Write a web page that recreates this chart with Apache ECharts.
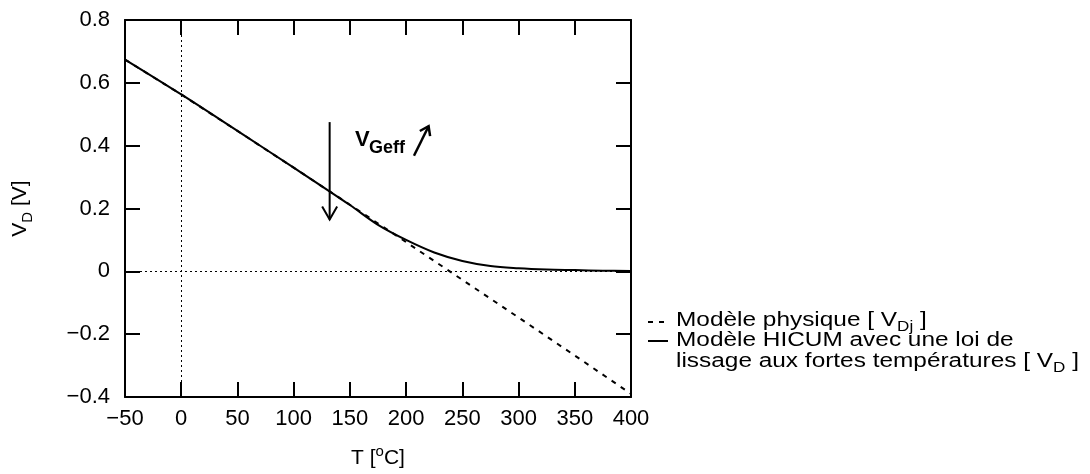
<!DOCTYPE html>
<html>
<head>
<meta charset="utf-8">
<script src="https://cdn.jsdelivr.net/npm/echarts@6/dist/echarts.min.js"></script>
<style>
  html, body { margin: 0; padding: 0; background: #ffffff; }
  #chart { width: 1090px; height: 474px; }
</style>
</head>
<body>
<div id="chart"></div>
<script>
// Junction diffusion voltage vs temperature
const temperatures = [-50, 0, 50, 100, 150, 200, 250, 300, 350, 400];
const vdjPhysical = [0.674, 0.563, 0.447, 0.330, 0.212, 0.093, -0.027, -0.147, -0.268, -0.390];

const temperaturesHicum = [-50, 0, 50, 100, 150, 175, 200, 225, 250, 275, 300, 325, 350, 375, 400];
const vdHicum = [0.674, 0.563, 0.447, 0.330, 0.211, 0.148, 0.100, 0.060, 0.033, 0.017, 0.010, 0.006, 0.004, 0.002, 0.001];

const xTickLabels = ['\u221250', '0', '50', '100', '150', '200', '250', '300', '350', '400'];
const yTickLabels = ['\u22120.4', '\u22120.2', '0', '0.2', '0.4', '0.6', '0.8'];

// annotation arrows: [T start, V start, T end, V end]
const annotationArrows = [
  [132, 0.475, 132, 0.165],
  [207, 0.368, 220, 0.462]
];
// V_Geff label anchor [T, V]
const labelAnchor = [[154.6, 0.419]];

const FONT = "'Liberation Sans', Arial, Helvetica, sans-serif";
const BLACK = '#000000';

const chart = echarts.init(document.getElementById('chart'), null, { renderer: 'canvas' });

const xMin = -50, xMax = 400, xStep = 50;
const yMin = -0.4, yMax = 0.8, yStep = 0.2;

function xLabel(v) {
  const i = Math.round((v - xMin) / xStep);
  return xTickLabels[i] !== undefined ? xTickLabels[i] : '';
}
function yLabel(v) {
  const i = Math.round((v - yMin) / yStep);
  return yTickLabels[i] !== undefined ? yTickLabels[i] : '';
}

const axisLine = { show: true, onZero: false, lineStyle: { color: BLACK, width: 2 } };
const axisTick = { show: true, inside: true, length: 15, lineStyle: { color: BLACK, width: 2 } };

const arrowHeads = [
  { len: 15, ang: 30 * Math.PI / 180 },
  { len: 10, ang: 35 * Math.PI / 180 }
];
const arrowWidths = [2, 2.5];

function renderArrow(params, api) {
  const p0 = api.coord([api.value(0), api.value(1)]);
  const p1 = api.coord([api.value(2), api.value(3)]);
  const head = arrowHeads[params.dataIndex];
  const a = Math.atan2(p1[1] - p0[1], p1[0] - p0[0]);
  const h1 = [p1[0] - head.len * Math.cos(a - head.ang), p1[1] - head.len * Math.sin(a - head.ang)];
  const h2 = [p1[0] - head.len * Math.cos(a + head.ang), p1[1] - head.len * Math.sin(a + head.ang)];
  const style = { stroke: BLACK, lineWidth: arrowWidths[params.dataIndex], fill: null };
  return {
    type: 'group',
    children: [
      { type: 'polyline', shape: { points: [p0, p1] }, style: style },
      { type: 'polyline', shape: { points: [h1, p1, h2] }, style: style }
    ]
  };
}

function renderLabel(params, api) {
  const p = api.coord([api.value(0), api.value(1)]);
  return {
    type: 'group',
    children: [
      { type: 'text', x: p[0], y: p[1],
        style: { text: 'V', font: 'bold 22px ' + FONT, fill: BLACK, align: 'left', verticalAlign: 'middle' } },
      { type: 'text', x: p[0] + 14, y: p[1] + 8,
        style: { text: 'Geff', font: 'bold 18px ' + FONT, fill: BLACK, align: 'left', verticalAlign: 'middle' } }
    ]
  };
}

// key text is set slightly wide
const KEY_SCALE_X = 1.22;
const legendRich = {
  n: { fontFamily: FONT, fontSize: 20, fill: BLACK, lineHeight: 22 },
  s: { fontFamily: FONT, fontSize: 14, fill: BLACK, padding: [14, 0, 0, 0] }
};

const option = {
  backgroundColor: '#ffffff',
  animation: false,
  grid: { left: 125, right: 459, top: 20, bottom: 74, containLabel: false },
  xAxis: [
    {
      type: 'value', min: xMin, max: xMax, interval: xStep, position: 'bottom',
      axisLine: axisLine, axisTick: axisTick, splitLine: { show: false },
      axisLabel: { show: true, formatter: xLabel, fontFamily: FONT, fontSize: 22, color: BLACK, margin: 11 },
      name: '{n|T [}{sup|o}{n|C]}', nameLocation: 'middle', nameGap: 47,
      nameTextStyle: {
        rich: {
          n: { fontFamily: FONT, fontSize: 21, color: BLACK },
          sup: { fontFamily: FONT, fontSize: 15, color: BLACK, padding: [0, 0, 14, 0] }
        }
      }
    },
    {
      type: 'value', min: xMin, max: xMax, interval: xStep, position: 'top',
      axisLine: axisLine, axisTick: axisTick, splitLine: { show: false },
      axisLabel: { show: false }
    }
  ],
  yAxis: [
    {
      type: 'value', min: yMin, max: yMax, interval: yStep, position: 'left',
      axisLine: axisLine, axisTick: axisTick, splitLine: { show: false },
      axisLabel: { show: true, formatter: yLabel, fontFamily: FONT, fontSize: 22, color: BLACK, margin: 15 },
      name: '{n|V}{s|D}{n| [V]}', nameLocation: 'middle', nameGap: 90, nameRotate: 90,
      nameTextStyle: {
        rich: {
          n: { fontFamily: FONT, fontSize: 21, color: BLACK },
          s: { fontFamily: FONT, fontSize: 15, color: BLACK, padding: [14, 0, 0, 0] }
        }
      }
    },
    {
      type: 'value', min: yMin, max: yMax, interval: yStep, position: 'right',
      axisLine: axisLine, axisTick: axisTick, splitLine: { show: false },
      axisLabel: { show: false }
    }
  ],
  series: [
    {
      name: 'Modèle physique [ VDj ]',
      type: 'line',
      data: temperatures.map((t, i) => [t, vdjPhysical[i]]),
      showSymbol: false,
      lineStyle: { color: BLACK, width: 2, type: [5, 6] },
      z: 3,
      markLine: {
        silent: true,
        symbol: ['none', 'none'],
        label: { show: false },
        lineStyle: { color: BLACK, width: 1, type: [2, 3] },
        data: [{ xAxis: 0 }, { yAxis: 0 }]
      }
    },
    {
      name: 'Modèle HICUM avec une loi de lissage aux fortes températures [ VD ]',
      type: 'line',
      data: temperaturesHicum.map((t, i) => [t, vdHicum[i]]),
      showSymbol: false,
      smooth: 0.35,
      lineStyle: { color: BLACK, width: 2 },
      z: 4
    },
    {
      type: 'custom',
      renderItem: renderArrow,
      data: annotationArrows,
      encode: { x: [0, 2], y: [1, 3] },
      silent: true,
      z: 5
    },
    {
      type: 'custom',
      renderItem: renderLabel,
      data: labelAnchor,
      encode: { x: 0, y: 1 },
      silent: true,
      z: 5
    }
  ],
  graphic: [
    { type: 'line', shape: { x1: 648, y1: 322, x2: 664, y2: 322 },
      style: { stroke: BLACK, lineWidth: 2, lineDash: [5, 6] } },
    { type: 'line', shape: { x1: 648, y1: 341, x2: 668, y2: 341 },
      style: { stroke: BLACK, lineWidth: 2 } },
    { type: 'text', x: 676, y: 320, scaleX: KEY_SCALE_X,
      style: { text: '{n|Modèle physique [ V}{s|Dj}{n| ]}', rich: legendRich, verticalAlign: 'middle', align: 'left' } },
    { type: 'text', x: 676, y: 340.5, scaleX: KEY_SCALE_X,
      style: { text: 'Modèle HICUM avec une loi de', font: '20px ' + FONT, fill: BLACK, verticalAlign: 'middle', align: 'left' } },
    { type: 'text', x: 676, y: 361, scaleX: KEY_SCALE_X,
      style: { text: '{n|lissage aux fortes températures [ V}{s|D}{n| ]}', rich: legendRich, verticalAlign: 'middle', align: 'left' } }
  ]
};

chart.setOption(option);
</script>
</body>
</html>
